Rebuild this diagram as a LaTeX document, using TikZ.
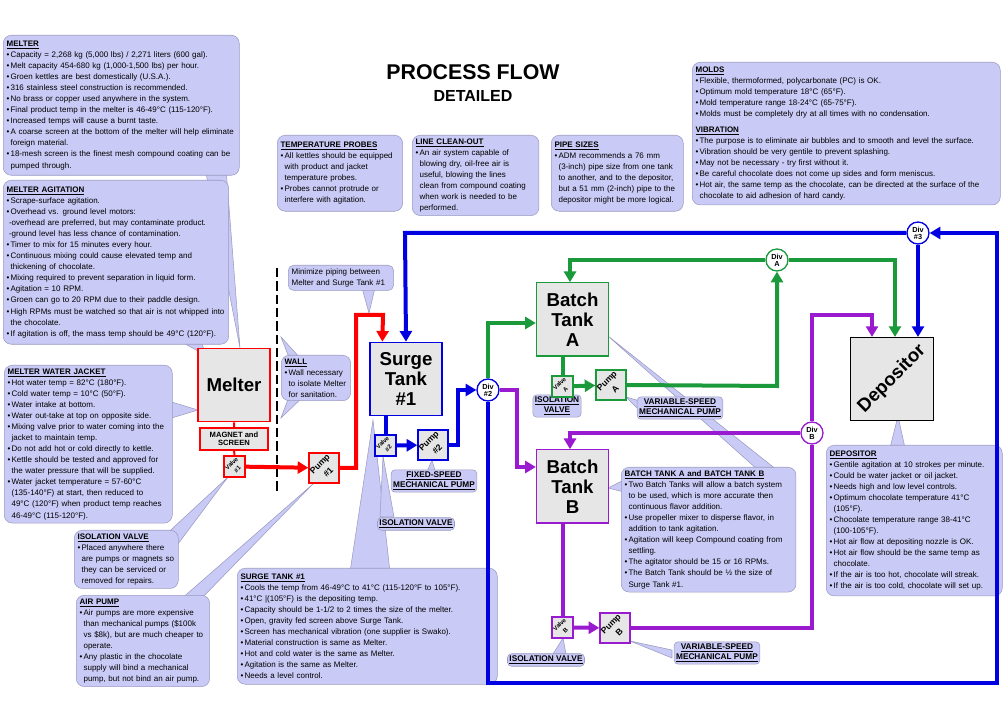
\documentclass[tikz,border=0pt]{standalone}
\usepackage{fontspec}
\setmainfont{Liberation Sans}
\usetikzlibrary{arrows.meta, calc, shapes.geometric}
\definecolor{notefill}{HTML}{C9CAF5}
\definecolor{notebd}{HTML}{9A9AC2}
\definecolor{boxfill}{HTML}{E6E6E6}
\definecolor{pred}{HTML}{FF0000}
\definecolor{pblue}{HTML}{0000E0}
\definecolor{pgreen}{HTML}{1A9A3A}
\definecolor{ppurple}{HTML}{9A1AD0}
\newcommand\notefont{\fontsize{6}{8.3}\selectfont\hyphenpenalty=10000\exhyphenpenalty=10000}
\newcommand\itm{\par\hangindent=0.5em\hangafter=1\noindent\makebox[0.5em][l]{\textbullet}}
\newcommand\hd[1]{\underline{\textbf{#1}}}
\tikzset{
  note/.style={draw=notebd, fill=notefill, rounded corners=6pt, anchor=north west,
    inner sep=2.5pt, align=left, font=\notefont, text width=#1},
  tail/.style={draw=notebd, fill=notefill},
  tag/.style={draw=notebd, fill=notefill, rounded corners=3pt, inner sep=1.5pt,
    align=center, font=\fontsize{6.2}{7.4}\selectfont\bfseries},
  tank/.style={draw=#1, fill=boxfill, line width=1pt, align=center,
    font=\fontsize{14}{15}\selectfont\bfseries, minimum width=54pt, minimum height=55pt},
  small/.style={draw=#1, fill=boxfill, line width=1pt, inner sep=0pt,
    minimum size=15.75pt, font=\fontsize{4.5}{4.6}\selectfont\bfseries},
  pump/.style={draw=#1, fill=boxfill, line width=1pt, inner sep=0pt,
    minimum size=22.5pt, font=\fontsize{6.5}{6.5}\selectfont\bfseries},
  div/.style={circle, draw=#1, fill=white, line width=1pt, inner sep=0pt,
    minimum size=16.5pt, font=\fontsize{5.5}{5.3}\selectfont\bfseries, align=center},
  pipe/.style={draw=#1, line width=3pt},
  flow/.style={pipe=#1, -{Triangle[length=8pt, width=9pt]}},
}
\begin{document}
\begin{tikzpicture}[x=0.75pt, y=-0.75pt]
\useasboundingbox (0,0) rectangle (1008,720);

% title
\node[font=\fontsize{16}{18}\selectfont\bfseries] (title) at (473,72) {PROCESS FLOW};
\node[font=\fontsize{12}{14}\selectfont\bfseries] (subtitle) at (473,96) {DETAILED};

% callout tails
\draw[tail] (205,168) -- (226,168) -- (240,348) -- cycle;
\draw[tail] (178,340) -- (200,340) -- (207,356) -- cycle;
\draw[tail] (165,400) -- (165,420) -- (198,410) -- cycle;
\draw[tail] (160,540) -- (172,552) -- (228,477) -- cycle;
\draw[tail] (180,600) -- (200,600) -- (313,484) -- cycle;
\draw[tail] (290,360) -- (302,360) -- (281,337) -- cycle;
\draw[tail] (290,394) -- (306,394) -- (281,418) -- cycle;
\draw[tail] (362,288) -- (375,288) -- (369,313) -- cycle;
\draw[tail] (350,572) -- (390,572) -- (373,420) -- cycle;
\draw[tail] (426,474) -- (436,474) -- (432,460) -- cycle;
\draw[tail] (380,517) -- (394,517) -- (383,456) -- cycle;
\draw[tail] (553,390) -- (563,390) -- (559,397) -- cycle;
\draw[tail] (640,401) -- (640,411) -- (626,397) -- cycle;
\draw[tail] (758,470) -- (777,470) -- (608,336) -- cycle;
\draw[tail] (624,480) -- (624,492) -- (608,488) -- cycle;
\draw[tail] (890,448) -- (905,448) -- (898,416) -- cycle;
\draw[tail] (553,654) -- (566,654) -- (563,638) -- cycle;
\draw[tail] (672,650) -- (672,658) -- (630,641) -- cycle;

% notes
\node[note=172pt, minimum height=105pt] (nMelter) at (3,35) {\hd{MELTER}
\itm Capacity = 2,268 kg (5,000 lbs) / 2,271 liters (600 gal).
\itm Melt capacity 454-680 kg (1,000-1,500 lbs) per hour.
\itm Groen kettles are best domestically (U.S.A.).
\itm 316 stainless steel construction is recommended.
\itm No brass or copper used anywhere in the system.
\itm Final product temp in the melter is 46-49°C (115-120°F).
\itm Increased temps will cause a burnt taste.
\itm A coarse screen at the bottom of the melter will help eliminate foreign material.
\itm 18-mesh screen is the finest mesh compound coating can be pumped through.\par};
\node[note=164pt, minimum height=123pt] (nAgit) at (3,180) {\hd{MELTER AGITATION}
\itm Scrape-surface agitation.
\itm Overhead vs. ground level motors:\\ \hspace*{0.3em}-overhead are preferred, but may contaminate product.\\ \hspace*{0.3em}-ground level has less chance of contamination.
\itm Timer to mix for 15 minutes every hour.
\itm Continuous mixing could cause elevated temp and thickening\ of chocolate.
\itm Mixing required to prevent separation in liquid form.
\itm Agitation = 10 RPM.
\itm Groen can go to 20 RPM due to their paddle design.
\itm High RPMs must be watched so that air is not whipped into the chocolate.
\itm If agitation is off, the mass temp should be 49°C (120°F).\par};
\node[note=121pt, minimum height=118pt] (nJacket) at (4,365) {\hd{MELTER WATER JACKET}
\itm Hot water temp = 82°C (180°F).
\itm Cold water temp = 10°C (50°F).
\itm Water intake at bottom.
\itm Water out-take at top on opposite side.
\itm Mixing valve prior to water coming into the jacket to maintain temp.
\itm Do not add hot or cold directly to kettle.
\itm Kettle should be tested and approved for the water pressure that will be supplied.
\itm Water jacket temperature = 57-60°C (135-140°F) at start, then reduced to 49°C (120°F) when product temp reaches 46-49°C (115-120°F).\par};
\node[note=73pt, minimum height=43pt] (nIsoI) at (74,530) {\hd{ISOLATION VALVE}
\itm Placed anywhere there are pumps or magnets so they can be serviced or removed for repairs.\par};
\node[note=95pt, minimum height=67pt] (nAir) at (76,595) {\hd{AIR PUMP}
\itm Air pumps are more expensive than mechanical pumps (\$100k vs \$8k), but are much cheaper to operate.
\itm Any plastic in the chocolate supply will bind a mechanical pump, but not bind an air pump.\par};
\node[note=47pt, minimum height=32pt] (nWall) at (281,355) {\hd{WALL}
\itm Wall necessary to isolate Melter for sanitation.\par};
\node[note=74pt, minimum height=18pt, rounded corners=4pt] (nPiping) at (288,265) {Minimize piping between Melter and Surge Tank \#1};
\node[note=89pt, minimum height=57pt] (nProbes) at (277,135) {\hd{TEMPERATURE PROBES}
\itm All kettles should be equipped with product and jacket temperature probes.
\itm Probes cannot protrude or interfere with agitation.\par};
\node[note=90pt, minimum height=57pt] (nClean) at (412,135) {\hd{LINE CLEAN-OUT}
\itm An air system capable of blowing dry, oil-free air is useful, blowing the lines clean from compound coating when work is needed to be performed.\par};
\node[note=94pt, minimum height=57pt] (nPipe) at (551,135) {\hd{PIPE SIZES}
\itm ADM recommends a 76 mm (3-inch) pipe size from one tank to another, and to the depositor, but a 51 mm (2-inch) pipe to the depositor might be more logical.\par};
\node[note=226pt, minimum height=107pt] (nMolds) at (692,62) {\hd{MOLDS}
\itm Flexible, thermoformed, polycarbonate (PC) is OK.
\itm Optimum mold temperature 18°C (65°F).
\itm Mold temperature range 18-24°C (65-75°F).
\itm Molds must be completely dry at all times with no condensation.\par\smallskip
\hd{VIBRATION}
\itm The purpose is to eliminate air bubbles and to smooth and level the surface.
\itm Vibration should be very gentile to prevent splashing.
\itm May not be necessary - try first without it.
\itm Be careful chocolate does not come up sides and form meniscus.
\itm Hot air, the same temp as the chocolate, can be directed at the surface of the chocolate to aid adhesion of hard candy.\par};
\node[note=190pt, minimum height=87pt] (nSurge) at (237,568) {\hd{SURGE TANK \#1}
\itm Cools the temp from 46-49°C to 41°C (115-120°F to 105°F).
\itm 41°C |(105°F) is the depositing temp.
\itm Capacity should be 1-1/2 to 2 times the size of the melter.
\itm Open, gravity fed screen above Surge Tank.
\itm Screen has mechanical vibration (one supplier is Swako).
\itm Material construction is same as Melter.
\itm Hot and cold\ water is the same as Melter.
\itm Agitation is the same as Melter.
\itm Needs a level control.\par};
\node[note=126pt, minimum height=86pt] (nBatch) at (621,467) {\hd{BATCH TANK A\ and\ BATCH TANK B}
\itm Two Batch Tanks will allow a batch system to be used, which is more accurate then continuous flavor addition.
\itm Use propeller mixer to disperse flavor, in addition to tank agitation.
\itm Agitation will keep Compound coating from settling.
\itm The agitator should be 15 or 16 RPMs.
\itm The Batch Tank should be ½ the size of Surge Tank \#1.\par};
\node[note=127pt, minimum height=113pt] (nDepos) at (826,445) {\hd{DEPOSITOR}
\itm Gentile agitation at 10 strokes per minute.
\itm Could be water jacket or oil jacket.
\itm Needs high and low level controls.
\itm Optimum chocolate temperature 41°C (105°F).
\itm Chocolate temperature\ range 38-41°C (100-105°F).
\itm Hot air flow at depositing nozzle is OK.
\itm Hot air flow should be the same temp as chocolate.
\itm If the air is too hot, chocolate will streak.
\itm If the air is too cold, chocolate will set up.\par};

% small tags
\node[tag] (tFixed) at (434,481) {\underline{FIXED-SPEED}\\\underline{MECHANICAL PUMP}};
\node[tag] (tIsoII) at (416,524) {\underline{ISOLATION VALVE}};
\node[tag] (tIsoA) at (557,406) {\underline{ISOLATION}\\\underline{VALVE}};
\node[tag] (tVarA) at (680,408) {\underline{VARIABLE-SPEED}\\\underline{MECHANICAL PUMP}};
\node[tag] (tIsoB) at (546,660) {\underline{ISOLATION VALVE}};
\node[tag] (tVarB) at (717,653) {\underline{VARIABLE-SPEED}\\\underline{MECHANICAL PUMP}};

% wall
\draw[line width=2.2pt, dash pattern=on 7pt off 3pt] (277,268) -- (277,492);

% equipment
\node[tank=pred] (melter) at (234,385) {Melter};
\node[draw=pred, fill=boxfill, line width=1pt, minimum width=51pt, minimum height=16.5pt,
  inner sep=0pt, align=center, font=\fontsize{5.7}{6.4}\selectfont\bfseries] (magnet) at (234,439) {MAGNET and\\SCREEN};
\node[small=pred] (valveI) at (234.5,466.5) {\rotatebox{45}{\shortstack{Valve\\\#1}}};
\node[pump=pred] (pumpI) at (324,468) {\rotatebox{45}{\shortstack{Pump\\\#1}}};
\node[tank=pblue] (surge) at (406,379) {Surge\\Tank\\\#1};
\node[small=pblue] (valveII) at (385.5,445.5) {\rotatebox{45}{\shortstack{Valve\\\#2}}};
\node[pump=pblue] (pumpII) at (433,445) {\rotatebox{45}{\shortstack{Pump\\\#2}}};
\node[tank=pgreen] (batchA) at (572.5,319.5) {Batch\\Tank\\A};
\node[small=pgreen] (valveA) at (562.5,386.5) {\rotatebox{45}{\shortstack{Valve\\A}}};
\node[pump=pgreen] (pumpA) at (611,385) {\rotatebox{45}{\shortstack{Pump\\A}}};
\node[tank=ppurple] (batchB) at (572.5,486.5) {Batch\\Tank\\B};
\node[small=ppurple] (valveB) at (562.5,627.5) {\rotatebox{45}{\shortstack{Valve\\B}}};
\node[pump=ppurple] (pumpB) at (615,628) {\rotatebox{45}{\shortstack{Pump\\B}}};
\node[tank=black] (depositor) at (892,379) {\rotatebox{45}{Depositor}};

% red line
\draw[draw=pred, line width=1.5pt] (melter) -- (magnet) -- (valveI);
\draw[flow=pred] (valveI) -- (pumpI);
\draw[flow=pred] (pumpI.east) -- (356,468) -- (356,315) -- (383,315) -- ($(surge.north west)+(13,0)$);

% blue line
\draw[pipe=pblue] (valveII.north) -- (valveII.north |- surge.south);
\draw[flow=pblue] (valveII) -- (pumpII);
\node[div=pblue] (divII) at (488,390) {Div\\\#2};
\node[div=pblue] (divIII) at (918,233) {Div\\\#3};
\draw[flow=pblue] (pumpII.east) -- (458,445) -- (458,390) -- (divII.west);
\draw[flow=pblue] (divII.south) -- (488,683) -- (997,683) -- (997,233) -- (divIII.east);
\draw[flow=pblue] (divIII.west) -- (405,233) -- (surge.north);
\draw[flow=pblue] (divIII.south) -- (depositor.north -| divIII);

% green line
\node[div=pgreen] (divA) at (777,260) {Div\\A};
\draw[flow=pgreen] (divII.north) -- (488,323) -- (batchA.west |- 0,323);
\draw[pipe=pgreen] (valveA.north) -- (valveA.north |- batchA.south);
\draw[flow=pgreen] (valveA) -- (pumpA);
\draw[flow=pgreen] (pumpA.east) -- (777,386) -- (divA.south);
\draw[flow=pgreen] (divA.west) -- (570,260) -- (batchA.north -| 570,0);
\draw[flow=pgreen] (divA.east) -- (895,260) -- (depositor.north -| 895,0);

% purple line
\node[div=ppurple] (divB) at (812,433) {Div\\B};
\draw[flow=ppurple] (divII.east) -- (517,390) -- (517,467) -- (batchB.west |- 0,467);
\draw[pipe=ppurple] (valveB.north) -- (valveB.north |- batchB.south);
\draw[flow=ppurple] (valveB) -- (pumpB);
\draw[pipe=ppurple] (pumpB.east) -- (812,628) -- (divB.south);
\draw[flow=ppurple] (divB.west) -- (570,433) -- (batchB.north -| 570,0);
\draw[flow=ppurple] (divB.north) -- (812,315) -- (872,315) -- (depositor.north -| 872,0);
\end{tikzpicture}
\end{document}
